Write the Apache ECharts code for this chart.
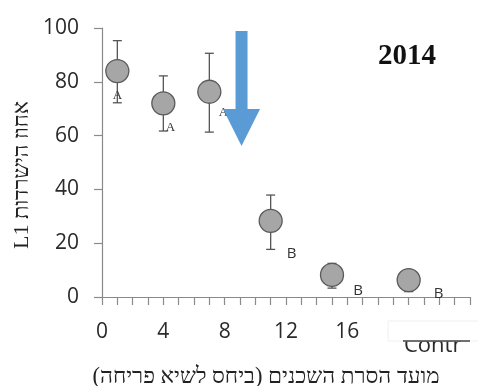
<!DOCTYPE html>
<html>
<head>
<meta charset="utf-8">
<script src="https://cdn.jsdelivr.net/npm/echarts@6/dist/echarts.min.js"></script>
<style>
  html, body { margin: 0; padding: 0; background: #fff; }
  #chart { width: 478px; height: 386px; }
</style>
</head>
<body>
<div id="chart"></div>
<script>
// Removal timing (days relative to bloom peak) and L1 survival (%)
const timing = [1, 4, 7, 11, 15, 20];
const survival = [84, 72, 76.3, 28.3, 8.2, 6.3];
const errHigh = [95.3, 82.2, 90.6, 37.9, 12.5, 7.5];
const errLow = [72.2, 61.7, 61.3, 17.7, 3.3, 2.0];
const groups = ['A', 'A', 'A', 'B', 'B', 'B'];
const xTickLabels = ['0', '4', '8', '12', '16'];
const controlLabel = 'Contr';
const yTickLabels = ['0', '20', '40', '60', '80', '100'];
const yearTitle = '2014';
const yTitle = 'L1 אחוז הישרדות';
const xTitle = '\u200Fמועד הסרת השכנים (ביחס לשיא פריחה)\u200F';
// Arrow: x position, top, head start and tip (axis units)
const arrowX = 9.1, arrowTop = 98.9, arrowHead = 69.9, arrowTip = 56.1;

const axisGray = '#8a8a8a';
const labelFont = '"Open Sans", "Liberation Sans", sans-serif';
const serifFont = '"Liberation Serif", "DejaVu Serif", serif';

// per-point letter placement
const letterStyle = [
  { offset: [0, 25], font: serifFont, size: 13 },
  { offset: [7, 24], font: serifFont, size: 13 },
  { offset: [14, 21], font: serifFont, size: 13 },
  { offset: [21, 33], font: labelFont, size: 15 },
  { offset: [26, 16], font: labelFont, size: 15 },
  { offset: [30, 14], font: labelFont, size: 15 }
];

const chart = echarts.init(document.getElementById('chart'), null, { renderer: 'canvas' });

const points = timing.map((t, i) => ({
  value: [t, survival[i]],
  label: {
    show: true,
    formatter: groups[i],
    position: 'inside',
    offset: letterStyle[i].offset,
    color: '#333',
    fontFamily: letterStyle[i].font,
    fontSize: letterStyle[i].size
  }
}));

const option = {
  animation: false,
  grid: { left: 102, right: 8, top: 28, bottom: 89 },
  xAxis: {
    type: 'value',
    min: 0, max: 24, interval: 1,
    axisLine: { show: true, lineStyle: { color: axisGray, width: 1.2 } },
    axisTick: { show: true, length: 8, lineStyle: { color: axisGray, width: 1.2 } },
    splitLine: { show: false },
    axisLabel: {
      margin: 25,
      color: '#2a2a2a',
      fontFamily: labelFont,
      fontSize: 21,
      showMaxLabel: true,
      formatter: v => {
        if (v % 4 === 0 && v / 4 < xTickLabels.length) return xTickLabels[v / 4];
        if (v === 20) return '{c|' + controlLabel + '}';
        return '';
      },
      rich: {
        c: { fontFamily: labelFont, fontSize: 22, color: '#2a2a2a', padding: [13, 0, 0, 48] }
      }
    }
  },
  yAxis: {
    type: 'value',
    min: 0, max: 100, interval: 20,
    axisLine: { show: true, lineStyle: { color: axisGray, width: 1.2 } },
    axisTick: { show: true, length: 8, inside: false, lineStyle: { color: axisGray, width: 1.2 } },
    splitLine: { show: false },
    axisLabel: {
      margin: 23,
      color: '#2a2a2a',
      fontFamily: labelFont,
      fontSize: 21,
      formatter: v => yTickLabels[v / 20]
    }
  },
  series: [
    {
      type: 'custom',
      z: 2,
      data: timing.map((t, i) => [t, errLow[i], errHigh[i]]),
      renderItem: (params, api) => {
        const lo = api.coord([api.value(0), api.value(1)]);
        const hi = api.coord([api.value(0), api.value(2)]);
        const cw = 4.5;
        const style = { stroke: '#555', lineWidth: 1.3 };
        return {
          type: 'group',
          children: [
            { type: 'line', shape: { x1: hi[0], y1: hi[1], x2: lo[0], y2: lo[1] }, style },
            { type: 'line', shape: { x1: hi[0] - cw, y1: hi[1], x2: hi[0] + cw, y2: hi[1] }, style },
            { type: 'line', shape: { x1: lo[0] - cw, y1: lo[1], x2: lo[0] + cw, y2: lo[1] }, style }
          ]
        };
      }
    },
    {
      type: 'scatter',
      z: 3,
      symbol: 'circle',
      symbolSize: 23,
      itemStyle: { color: '#a6a6a6', borderColor: '#5a5a5a', borderWidth: 1.3, opacity: 1 },
      data: points
    }
  ]
};

chart.setOption(option);

// annotations placed through the axis scales
const toPx = (x, y) => chart.convertToPixel({ gridIndex: 0 }, [x, y]);
const arrowTopPx = toPx(arrowX, arrowTop);
const arrowHeadPx = toPx(arrowX, arrowHead);
const arrowTipPx = toPx(arrowX, arrowTip);
const shaftHalf = 6, headHalf = 18.5;

chart.setOption({
  graphic: [
    {
      type: 'polygon',
      z: 50,
      shape: {
        points: [
          [arrowTopPx[0] - shaftHalf, arrowTopPx[1]],
          [arrowTopPx[0] + shaftHalf, arrowTopPx[1]],
          [arrowHeadPx[0] + shaftHalf, arrowHeadPx[1]],
          [arrowHeadPx[0] + headHalf, arrowHeadPx[1]],
          [arrowTipPx[0], arrowTipPx[1]],
          [arrowHeadPx[0] - headHalf, arrowHeadPx[1]],
          [arrowHeadPx[0] - shaftHalf, arrowHeadPx[1]]
        ]
      },
      style: { fill: '#5b9bd5' }
    },
    {
      type: 'text',
      z: 50,
      x: 407, y: 57,
      style: {
        text: yearTitle,
        font: 'bold 29px ' + serifFont,
        fill: '#111',
        align: 'center',
        verticalAlign: 'middle'
      }
    },
    {
      type: 'text',
      z: 50,
      x: 22, y: 175,
      rotation: Math.PI / 2,
      style: {
        text: yTitle,
        font: '22px ' + serifFont,
        fill: '#222',
        align: 'center',
        verticalAlign: 'middle'
      }
    },
    {
      type: 'text',
      z: 50,
      x: 266, y: 377,
      style: {
        text: xTitle,
        font: '22.5px ' + serifFont,
        fill: '#222',
        align: 'center',
        verticalAlign: 'middle'
      }
    },
    // white box partially covering the control label
    {
      type: 'rect',
      z: 60,
      shape: { x: 388, y: 321, width: 92, height: 20 },
      style: { fill: '#fff', stroke: '#f0f0f0', lineWidth: 1 }
    },
    {
      type: 'line',
      z: 61,
      shape: { x1: 403, y1: 341, x2: 470, y2: 341 },
      style: { stroke: '#444', lineWidth: 1.5 }
    }
  ]
});
</script>
</body>
</html>
